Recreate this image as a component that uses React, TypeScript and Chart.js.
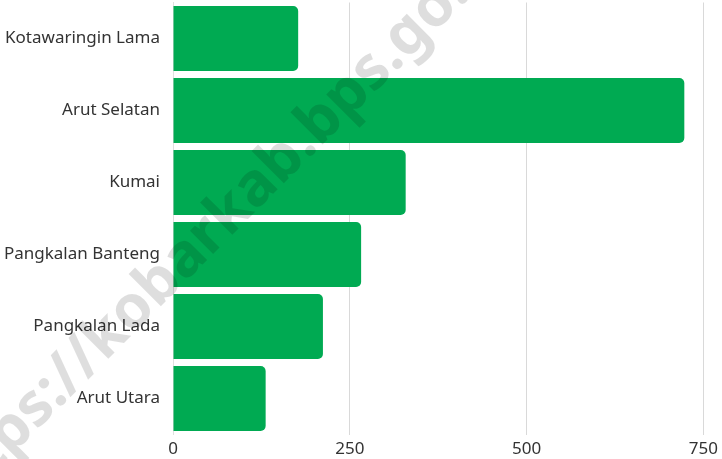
import React, { useEffect, useRef } from "react";
import { Chart, registerables } from "chart.js";

Chart.register(...registerables);

const categories = [
  "Kotawaringin Lama",
  "Arut Selatan",
  "Kumai",
  "Pangkalan Banteng",
  "Pangkalan Lada",
  "Arut Utara",
];
const values = [177, 723, 329, 266, 212, 131];
const xTicks = [0, 250, 500, 750];
const watermarkText = "https://kobarkab.bps.go.id";

const watermarkPlugin = {
  id: "watermark",
  afterDatasetsDraw(chart: any) {
    const ctx = chart.ctx;
    ctx.save();
    ctx.font = "bold 60px 'Noto Sans'";
    const before = ctx.measureText("https://kobarkab").width;
    const dot = ctx.measureText(".").width;
    ctx.translate(310, 150);
    ctx.rotate((-45 * Math.PI) / 180);
    ctx.fillStyle = "rgba(0,0,0,0.13)";
    ctx.textAlign = "left";
    ctx.textBaseline = "alphabetic";
    ctx.fillText(watermarkText, -(before + dot / 2), 5);
    ctx.restore();
  },
};

export default function App() {
  const ref = useRef<HTMLCanvasElement | null>(null);
  useEffect(() => {
    document.body.style.margin = "0";
    const chart = new Chart(ref.current!, {
      type: "bar",
      data: {
        labels: categories,
        datasets: [
          {
            data: values,
            backgroundColor: "#00aa52",
            borderRadius: 5,
            borderSkipped: "start",
            barPercentage: 0.9,
            categoryPercentage: 1.0,
          },
        ],
      },
      options: {
        indexAxis: "y",
        animation: false,
        responsive: false,
        maintainAspectRatio: false,
        layout: { padding: { top: 2.5, right: 17, left: 0, bottom: 0 } },
        plugins: {
          legend: { display: false },
          tooltip: { enabled: false },
        },
        scales: {
          x: {
            min: 0,
            max: 750,
            afterBuildTicks: (scale: any) => {
              scale.ticks = xTicks.map((v) => ({ value: v }));
            },
            afterFit: (scale: any) => {
              scale.height = 24.5;
            },
            grid: { color: "#d9d9d9", drawTicks: false, lineWidth: 1 },
            border: { display: false },
            ticks: {
              padding: 4,
              color: "#333333",
              font: { family: "'Noto Sans'", size: 17 },
            },
          },
          y: {
            afterFit: (scale: any) => {
              scale.width = 173;
              scale.paddingTop = 0;
              scale.paddingBottom = 0;
            },
            grid: { display: false, drawTicks: false },
            border: { display: true, color: "#e0e0e0" },
            ticks: {
              padding: 13,
              color: "#333333",
              font: { family: "'Noto Sans'", size: 17 },
            },
          },
        },
      },
      plugins: [watermarkPlugin],
    } as any);
    return () => chart.destroy();
  }, []);
  return (
    <div style={{ width: 722, height: 459 }}>
      <canvas ref={ref} width={722} height={459} style={{ display: "block" }} />
    </div>
  );
}
